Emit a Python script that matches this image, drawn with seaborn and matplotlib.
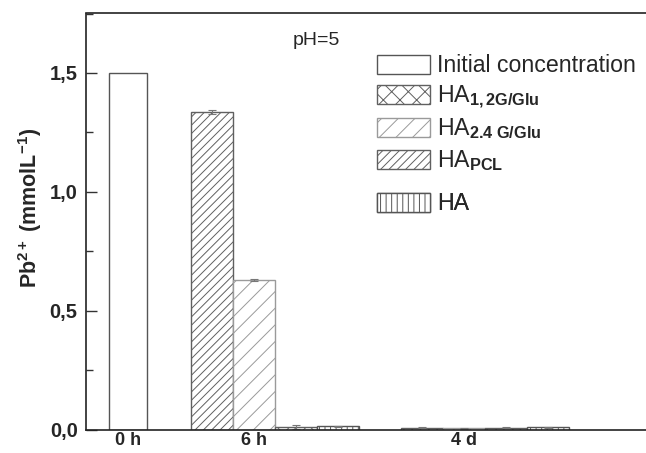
import matplotlib
matplotlib.use("Agg")
import matplotlib.pyplot as plt
import seaborn as sns
import pandas as pd
import numpy as np
from matplotlib.patches import Patch
from matplotlib.ticker import MultipleLocator

# ---------------- data ----------------
groups = ["0 h", "6 h", "4 d"]
series = ["Initial concentration", "HA_1,2G/Glu", "HA_2.4 G/Glu", "HA_PCL", "HA"]

initial_value = [1.50]
initial_err = [0.0]

# order of bars inside the 6 h and 4 d groups
group_series = ["HA_PCL", "HA_2.4 G/Glu", "HA_1,2G/Glu", "HA"]
values_6h = [1.337, 0.630, 0.009, 0.013]
err_6h = [0.008, 0.004, 0.008, 0.003]
values_4d = [0.008, 0.006, 0.008, 0.009]
err_4d = [0.002, 0.002, 0.002, 0.002]

# ---------------- style ----------------
sns.set_theme(style="ticks")
plt.rcParams["font.family"] = ["Liberation Sans", "DejaVu Sans"]
plt.rcParams["mathtext.fontset"] = "custom"
plt.rcParams["mathtext.rm"] = "Liberation Sans"
plt.rcParams["mathtext.bf"] = "Liberation Sans:bold"
plt.rcParams["mathtext.it"] = "Liberation Sans:italic"
plt.rcParams["hatch.linewidth"] = 0.7

styles = {
    "Initial concentration": dict(hatch="", edge="#555555"),
    "HA_1,2G/Glu": dict(hatch="xx", edge="#606060"),
    "HA_2.4 G/Glu": dict(hatch="//", edge="#9a9a9a"),
    "HA_PCL": dict(hatch="////", edge="#606060"),
    "HA": dict(hatch="|||", edge="#555555"),
}
labels = {
    "Initial concentration": "Initial concentration",
    "HA_1,2G/Glu": r"HA$_{\mathbf{1,2G/Glu}}$",
    "HA_2.4 G/Glu": r"HA$_{\mathbf{2.4\ G/Glu}}$",
    "HA_PCL": r"HA$_{\mathbf{PCL}}$",
    "HA": "HA",
}

# positions of the bars (one bar-width units)
pos_init = [1]
pos_6h = [3, 4, 5, 6]
pos_4d = [8, 9, 10, 11]
tick_pos = [1, 4, 9]

df_init = pd.DataFrame({"pos": pos_init, "value": initial_value, "err": initial_err,
                        "series": ["Initial concentration"]})
df_rest = pd.DataFrame({
    "pos": pos_6h + pos_4d,
    "value": values_6h + values_4d,
    "err": err_6h + err_4d,
    "series": group_series + group_series,
})

fig = plt.figure(figsize=(6.46, 4.53), dpi=100)
ax = fig.add_axes([86 / 646, 23.5 / 453, 588 / 646, 416 / 453])

sns.barplot(data=df_init, x="pos", y="value", native_scale=True, width=0.9,
            errorbar=None, color="white", ax=ax)
sns.barplot(data=df_rest, x="pos", y="value", native_scale=True, width=1.0,
            errorbar=None, color="white", ax=ax)

all_df = pd.concat([df_init, df_rest], ignore_index=True)
pos_to_series = dict(zip(all_df["pos"], all_df["series"]))
for p in ax.patches:
    c = p.get_x() + p.get_width() / 2
    st = styles[pos_to_series[int(round(c))]]
    p.set_facecolor("white")
    p.set_edgecolor(st["edge"])
    p.set_hatch(st["hatch"])
    p.set_linewidth(1.0)

ax.errorbar(df_rest["pos"], df_rest["value"], yerr=df_rest["err"], fmt="none",
            ecolor="#777777", elinewidth=0.8, capsize=3, capthick=0.8)

ax.set_xlim(0, 14)
ax.set_ylim(0, 1.75)
ax.set_xticks(tick_pos)
ax.set_xticklabels(groups, fontsize=13, fontweight="bold")
ax.yaxis.set_major_locator(MultipleLocator(0.5))
ax.yaxis.set_minor_locator(MultipleLocator(0.25))
ax.set_yticklabels([f"{v:.1f}".replace(".", ",") for v in ax.get_yticks()],
                   fontsize=14.5, fontweight="bold")
ax.tick_params(axis="y", which="major", direction="in", length=8, width=1, pad=6, color="#333333")
ax.tick_params(axis="y", which="minor", direction="in", length=5, width=1, color="#333333")
ax.tick_params(axis="x", length=0, pad=2)
for sp in ax.spines.values():
    sp.set_linewidth(1.2)
    sp.set_color("#222222")

ax.set_xlabel("")
ax.set_ylabel(r"Pb$^{\mathbf{2+}}$ (mmolL$^{\mathbf{-1}}$)", fontsize=15.5, fontweight="bold")
ax.yaxis.set_label_coords((44 - 86) / 588, (429.5 - 208) / 416)

ax.text(0.391, 0.936, "pH=5", transform=ax.transAxes, ha="center", va="center", fontsize=14)

# legend: one entry per row, rows centred on the reference handle centres (pixels)
row_centres = [66, 97, 129, 161, 204]
leg_kw = dict(frameon=False, fontsize=16.7, handlelength=2.28, handleheight=0.87,
              handletextpad=0.3, borderpad=0, borderaxespad=0, loc="center left")
for s, yc in zip(series, row_centres):
    h = Patch(facecolor="white", edgecolor=styles[s]["edge"], hatch=styles[s]["hatch"],
              label=labels[s], linewidth=1.0)
    leg = ax.legend(handles=[h], bbox_to_anchor=((377 - 86) / 588, (429.5 - yc) / 416), **leg_kw)
    ax.add_artist(leg)

fig.savefig("out.png", dpi=100)
